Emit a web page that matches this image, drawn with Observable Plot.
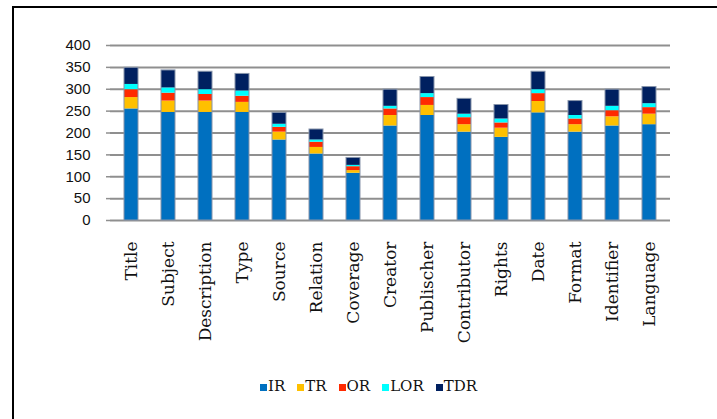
<!DOCTYPE html>
<html>
<head>
<meta charset="utf-8">
<script src="https://cdn.jsdelivr.net/npm/d3@7"></script>
<script src="https://cdn.jsdelivr.net/npm/@observablehq/plot@0.6"></script>
<style>
  html, body { margin: 0; padding: 0; background: white; }
  #wrap { position: relative; width: 717px; height: 419px; overflow: hidden; background: white; }
  #frame { position: absolute; left: 12px; top: 6px; right: -10px; bottom: -10px;
           border-left: 2px solid black; border-top: 2px solid black; pointer-events: none; }
  #legend { position: absolute; left: 260px; top: 377px; display: flex; gap: 12px;
            font-family: "DejaVu Serif", serif; font-size: 15px; color: #111; }
  #legend .item { display: flex; align-items: center; }
  #legend .sw { width: 7px; height: 7px; margin-right: 1px; margin-top: 2px; }
</style>
</head>
<body>
<div id="wrap">
  <div id="chart"></div>
  <div id="legend"></div>
  <div id="frame"></div>
</div>
<script>
// Metadata elements
const categories = ["Title", "Subject", "Description", "Type", "Source", "Relation", "Coverage",
  "Creator", "Publischer", "Contributor", "Rights", "Date", "Format", "Identifier", "Language"];

// Stacked series, bottom to top
const seriesNames = ["IR", "TR", "OR", "LOR", "TDR"];
const seriesColors = ["#0070C0", "#FFC000", "#FF2A00", "#00FFFF", "#002060"];

const IR  = [255, 247, 247, 247, 184, 152, 108, 216, 240, 202, 190, 246, 202, 216, 219];
const TR  = [26, 26, 26, 23, 18, 15, 6, 24, 23, 17, 21, 26, 17, 21, 24];
const OR  = [18, 18, 15, 14, 11, 12, 9, 15, 18, 16, 12, 18, 13, 14, 15];
const LOR = [12, 12, 11, 12, 7, 5, 3, 6, 9, 8, 9, 9, 8, 10, 9];
const TDR = [38, 40, 41, 39, 26, 24, 17, 38, 38, 35, 32, 41, 33, 38, 38];

const yTicks = [0, 50, 100, 150, 200, 250, 300, 350, 400];

const seriesValues = [IR, TR, OR, LOR, TDR];
const rows = categories.flatMap((c, i) =>
  seriesNames.map((s, k) => ({category: c, series: s, value: seriesValues[k][i]})));
const totals = categories.map((c, i) =>
  ({category: c, total: d3.sum(seriesValues, v => v[i])}));

const grid = "#8f8f8f";

const chart = Plot.plot({
  width: 717,
  height: 370,
  marginLeft: 110,
  marginRight: 47,
  marginTop: 45,
  marginBottom: 150,
  style: {background: "transparent"},
  x: {domain: categories, paddingInner: 0.62, paddingOuter: 0.32, label: null},
  y: {domain: [0, 400], label: null},
  color: {domain: seriesNames, range: seriesColors},
  marks: [
    Plot.gridY(yTicks, {stroke: grid, strokeOpacity: 1, strokeWidth: 2}),
    Plot.barY(rows, {x: "category", y: "value", fill: "series", order: seriesNames}),
    Plot.barY(totals, {x: "category", y: "total", fill: "none", stroke: "#8794aa", strokeWidth: 1}),
    Plot.axisY({ticks: yTicks, tickSize: 4, tickPadding: 16, stroke: grid, fill: "#111",
      strokeWidth: 1.5, line: true, label: null,
      fontFamily: "Liberation Sans, Arial, sans-serif", fontSize: 15}),
    Plot.axisX({tickSize: 0, tickPadding: 21, tickRotate: -90, label: null, fill: "#111",
      fontFamily: "DejaVu Serif, serif", fontSize: 17})
  ]
});
document.getElementById("chart").appendChild(chart);

// Legend below the plot
const legend = document.getElementById("legend");
seriesNames.forEach((s, k) => {
  const item = document.createElement("div");
  item.className = "item";
  const sw = document.createElement("span");
  sw.className = "sw";
  sw.style.background = seriesColors[k];
  const label = document.createElement("span");
  label.textContent = s;
  item.appendChild(sw);
  item.appendChild(label);
  legend.appendChild(item);
});
</script>
</body>
</html>
